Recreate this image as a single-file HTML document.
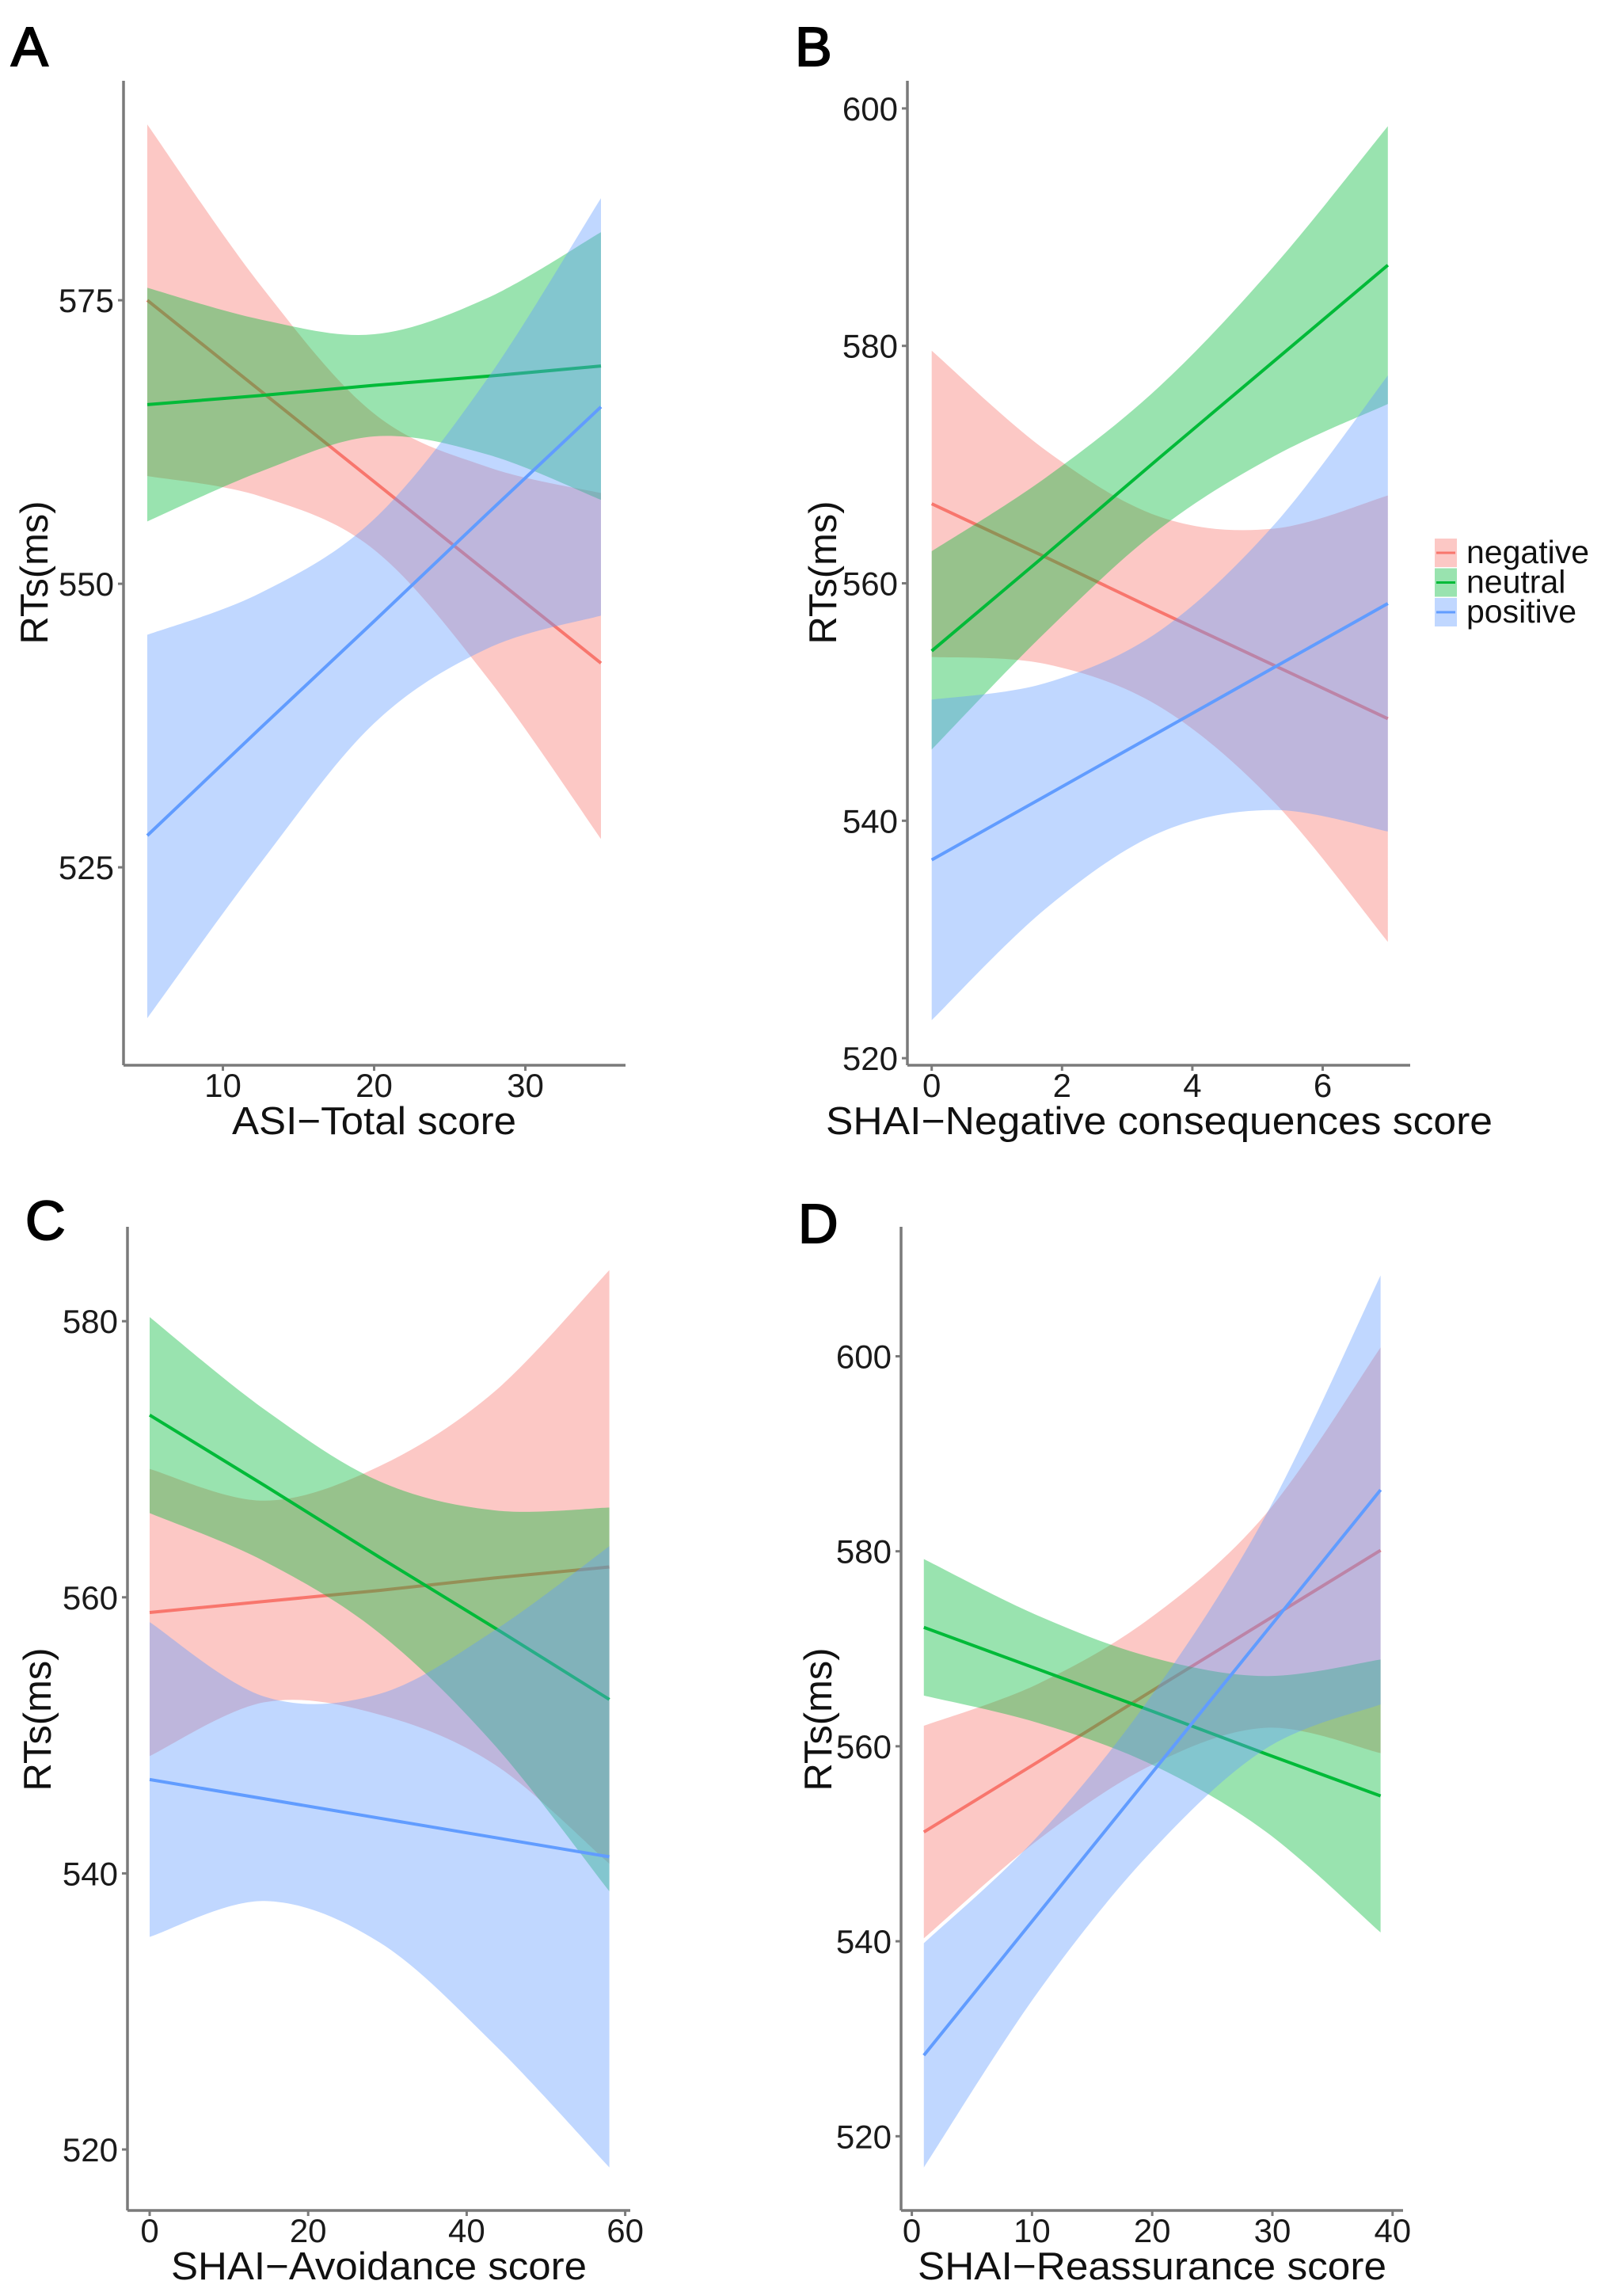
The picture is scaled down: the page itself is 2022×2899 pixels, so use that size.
<!DOCTYPE html>
<html><head><meta charset="utf-8"><style>
html,body{margin:0;padding:0;background:#fff;}
svg{display:block;}
text{font-family:"Liberation Sans",Arial,sans-serif;}
</style></head><body>
<svg id="fig" width="2022" height="2899" viewBox="0 0 2022 2899" xmlns="http://www.w3.org/2000/svg"></svg>
<script>
// ---- Panel A data (ASI-Total score)
const aX = [5, 12.5, 20, 27.5, 35];
const aNegFit = [575, 567, 559, 551, 543];
const aNegUp = [590.5, 576.3, 565, 560.3, 558];
const aNegLo = [559.5, 557.7, 553, 541.7, 527.5];
const aNeuFit = [565.8, 566.6, 567.5, 568.3, 569.2];
const aNeuUp = [576.1, 573.3, 572, 575.2, 581];
const aNeuLo = [555.5, 559.9, 563, 561.4, 557.4];
const aPosFit = [527.8, 537.3, 546.7, 556.2, 565.6];
const aPosUp = [545.5, 549.2, 555.7, 568.1, 584];
const aPosLo = [511.7, 525.4, 537.7, 544.3, 547.2];
const aXTicks = [10, 20, 30];
const aYTicks = [525, 550, 575];

// ---- Panel B data (SHAI-Negative consequences)
const bX = [0, 1.75, 3.5, 5.25, 7];
const bNegFit = [566.7, 562.2, 557.6, 553.1, 548.6];
const bNegUp = [579.6, 571.2, 565.6, 564.6, 567.4];
const bNegLo = [553.8, 553.2, 549.6, 541.6, 529.8];
const bNeuFit = [554.3, 562.4, 570.6, 578.7, 586.8];
const bNeuUp = [562.7, 568.9, 576.6, 586.7, 598.5];
const bNeuLo = [546.0, 555.9, 564.6, 570.7, 575.1];
const bPosFit = [536.7, 542.1, 547.5, 552.9, 558.3];
const bPosUp = [550.2, 551.6, 556, 564.9, 577.5];
const bPosLo = [523.2, 532.6, 539, 540.9, 539.1];
const bXTicks = [0, 2, 4, 6];
const bYTicks = [520, 540, 560, 580, 600];

// ---- Panel C data (SHAI-Avoidance)
const cX = [0, 14.5, 29, 43.5, 58];
const cNegFit = [558.9, 559.7, 560.5, 561.4, 562.2];
const cNegUp = [569.3, 567, 569.5, 574.9, 583.7];
const cNegLo = [548.5, 552.4, 551.5, 547.9, 540.7];
const cNeuFit = [573.2, 568.1, 562.9, 557.8, 552.6];
const cNeuUp = [580.3, 573.6, 568.4, 566.3, 566.5];
const cNeuLo = [566.1, 562.6, 557.4, 549.3, 538.7];
const cPosFit = [546.8, 545.4, 544.0, 542.6, 541.2];
const cPosUp = [558.2, 552.8, 553, 557.6, 563.7];
const cPosLo = [535.4, 538.0, 535, 527.6, 518.7];
const cXTicks = [0, 20, 40, 60];
const cYTicks = [520, 540, 560, 580];

// ---- Panel D data (SHAI-Reassurance)
const dX = [1, 10.5, 20, 29.5, 39];
const dNegFit = [551.2, 558.4, 565.7, 572.9, 580.1];
const dNegUp = [562.1, 566.4, 573.3, 583.9, 600.9];
const dNegLo = [540.3, 550.4, 558.1, 561.9, 559.3];
const dNeuFit = [572.2, 567.9, 563.6, 559.2, 554.9];
const dNeuUp = [579.2, 573.4, 569.1, 567.2, 568.9];
const dNeuLo = [565.2, 562.4, 558.1, 551.2, 540.9];
const dPosFit = [528.3, 542.8, 557.3, 571.8, 586.3];
const dPosUp = [539.8, 550.8, 565.3, 583.8, 608.3];
const dPosLo = [516.8, 534.8, 549.3, 559.8, 564.3];
const dXTicks = [0, 10, 20, 30, 40];
const dYTicks = [520, 540, 560, 580, 600];

const NS = "http://www.w3.org/2000/svg";
const svg = document.getElementById("fig");
const COLS = {negative: "#F8766D", neutral: "#00BA38", positive: "#619CFF"};

function mk(tag, attrs, parent) {
  const e = document.createElementNS(NS, tag);
  for (const k in attrs) e.setAttribute(k, attrs[k]);
  (parent || svg).appendChild(e);
  return e;
}
function smooth(pts) {
  let d = "M" + pts[0][0] + "," + pts[0][1];
  for (let i = 0; i < pts.length - 1; i++) {
    const p0 = pts[Math.max(0, i - 1)], p1 = pts[i], p2 = pts[i + 1], p3 = pts[Math.min(pts.length - 1, i + 2)];
    const c1x = p1[0] + (p2[0] - p0[0]) / 6, c1y = p1[1] + (p2[1] - p0[1]) / 6;
    const c2x = p2[0] - (p3[0] - p1[0]) / 6, c2y = p2[1] - (p3[1] - p1[1]) / 6;
    d += " C" + c1x + "," + c1y + " " + c2x + "," + c2y + " " + p2[0] + "," + p2[1];
  }
  return d;
}

function panel(cfg) {
  const g = mk("g", {});
  
  
  const sx = v => cfg.x0 + (v - cfg.xv0) * cfg.xs;
  const sy = v => cfg.y0 + (cfg.yv0 - v) * cfg.ys;
  const series = [["negative", cfg.neg], ["neutral", cfg.neu], ["positive", cfg.pos]];
  series.forEach(([name, s]) => {
    const col = COLS[name];
    const up = cfg.xsData.map((x, i) => [sx(x), sy(s.up[i])]);
    const lo = cfg.xsData.map((x, i) => [sx(x), sy(s.lo[i])]).reverse();
    let d = smooth(up);
    d += " L" + lo[0][0] + "," + lo[0][1] + " " + smooth(lo).slice(1) + " Z";
    const band = mk("path", {d: d, fill: col, "fill-opacity": 0.4, stroke: "none"}, g);
    
    
    const pts = cfg.xsData.map((x, i) => sx(x) + "," + sy(s.fit[i])).join(" ");
    const ln = mk("polyline", {points: pts, fill: "none", stroke: col, "stroke-width": 4}, g);
    
    
  });
  const yAx = mk("line", {x1: cfg.axX, y1: cfg.top, x2: cfg.axX, y2: cfg.axY, stroke: "#7a7a7a", "stroke-width": 3.5}, g);
  
  
  const xAx = mk("line", {x1: cfg.axX, y1: cfg.axY, x2: cfg.axRight, y2: cfg.axY, stroke: "#7a7a7a", "stroke-width": 3.5}, g);
  
  
  cfg.yTicks.forEach(t => {
    const y = sy(t);
    const tk = mk("line", {x1: cfg.axX - 7, y1: y, x2: cfg.axX, y2: y, stroke: "#7a7a7a", "stroke-width": 3}, g);
    
    
    const tx = mk("text", {x: cfg.axX - 12, y: y + 15, "text-anchor": "end", "font-size": 42, fill: "#1a1a1a"}, g);
    tx.textContent = t;
    
    
  });
  cfg.xTicks.forEach(t => {
    const x = sx(t);
    const tk = mk("line", {x1: x, y1: cfg.axY, x2: x, y2: cfg.axY + 7, stroke: "#7a7a7a", "stroke-width": 3}, g);
    
    
    const tx = mk("text", {x: x, y: cfg.axY + 40, "text-anchor": "middle", "font-size": 42, fill: "#1a1a1a"}, g);
    tx.textContent = t;
    
    
  });
  const xt = mk("text", {x: cfg.xtX, y: cfg.axY + 87, "font-size": 49, fill: "#111", textLength: cfg.xtW, lengthAdjust: "spacingAndGlyphs"}, g);
  xt.textContent = cfg.xTitle;
  
  
  const yt = mk("text", {x: 0, y: 0, "font-size": 49, fill: "#111", "text-anchor": "middle", textLength: 181, lengthAdjust: "spacingAndGlyphs", transform: "translate(" + cfg.ytX + "," + cfg.ytY + ") rotate(-90)"}, g);
  yt.textContent = "RTs(ms)";
  
  
  const lt = mk("text", {x: cfg.letX, y: cfg.letY, "font-size": 70, fill: "#000", stroke: "#000", "stroke-width": 2}, g);
  lt.textContent = cfg.id;
  
  
}

panel({id: "A", x0: 186, xv0: 5, xs: 19.1, y0: 379.1, yv0: 575, ys: 14.32,
  axX: 156, top: 102, axY: 1345, axRight: 790, xsData: aX,
  neg: {fit: aNegFit, up: aNegUp, lo: aNegLo}, neu: {fit: aNeuFit, up: aNeuUp, lo: aNeuLo}, pos: {fit: aPosFit, up: aPosUp, lo: aPosLo},
  xTicks: aXTicks, yTicks: aYTicks, xTitle: "ASI\u2212Total score", xtX: 293, xtW: 359,
  ytX: 60, ytY: 723, letX: 14, letY: 83});
panel({id: "B", x0: 1176.7, xv0: 0, xs: 82.3, y0: 136.9, yv0: 600, ys: 14.99,
  axX: 1146, top: 102, axY: 1345, axRight: 1781, xsData: bX,
  neg: {fit: bNegFit, up: bNegUp, lo: bNegLo}, neu: {fit: bNeuFit, up: bNeuUp, lo: bNeuLo}, pos: {fit: bPosFit, up: bPosUp, lo: bPosLo},
  xTicks: bXTicks, yTicks: bYTicks, xTitle: "SHAI\u2212Negative consequences score", xtX: 1043, xtW: 842,
  ytX: 1056, ytY: 723, letX: 1004, letY: 83});
panel({id: "C", x0: 189, xv0: 0, xs: 10.01, y0: 1668.2, yv0: 580, ys: 17.43,
  axX: 161, top: 1549, axY: 2791, axRight: 796, xsData: cX,
  neg: {fit: cNegFit, up: cNegUp, lo: cNegLo}, neu: {fit: cNeuFit, up: cNeuUp, lo: cNeuLo}, pos: {fit: cPosFit, up: cPosUp, lo: cPosLo},
  xTicks: cXTicks, yTicks: cYTicks, xTitle: "SHAI\u2212Avoidance score", xtX: 216, xtW: 525,
  ytX: 64, ytY: 2171, letX: 32, letY: 1565});
panel({id: "D", x0: 1151.6, xv0: 0, xs: 15.18, y0: 1712.5, yv0: 600, ys: 12.31,
  axX: 1138, top: 1549, axY: 2791, axRight: 1772, xsData: dX,
  neg: {fit: dNegFit, up: dNegUp, lo: dNegLo}, neu: {fit: dNeuFit, up: dNeuUp, lo: dNeuLo}, pos: {fit: dPosFit, up: dPosUp, lo: dPosLo},
  xTicks: dXTicks, yTicks: dYTicks, xTitle: "SHAI\u2212Reassurance score", xtX: 1159, xtW: 592,
  ytX: 1050, ytY: 2171, letX: 1008, letY: 1569});

const legendNames = ["negative", "neutral", "positive"];
const lg = mk("g", {});


legendNames.forEach((n, i) => {
  const y = 680 + i * 37.5;
  const r = mk("rect", {x: 1812, y: y, width: 28, height: 36, fill: COLS[n], "fill-opacity": 0.4}, lg);
  
  
  const l = mk("line", {x1: 1814, y1: y + 18, x2: 1838, y2: y + 18, stroke: COLS[n], "stroke-width": 3}, lg);
  
  
  const t = mk("text", {x: 1852, y: y + 31, "font-size": 41, fill: "#111"}, lg);
  t.textContent = n;
  
  
});
</script>
</body></html>
